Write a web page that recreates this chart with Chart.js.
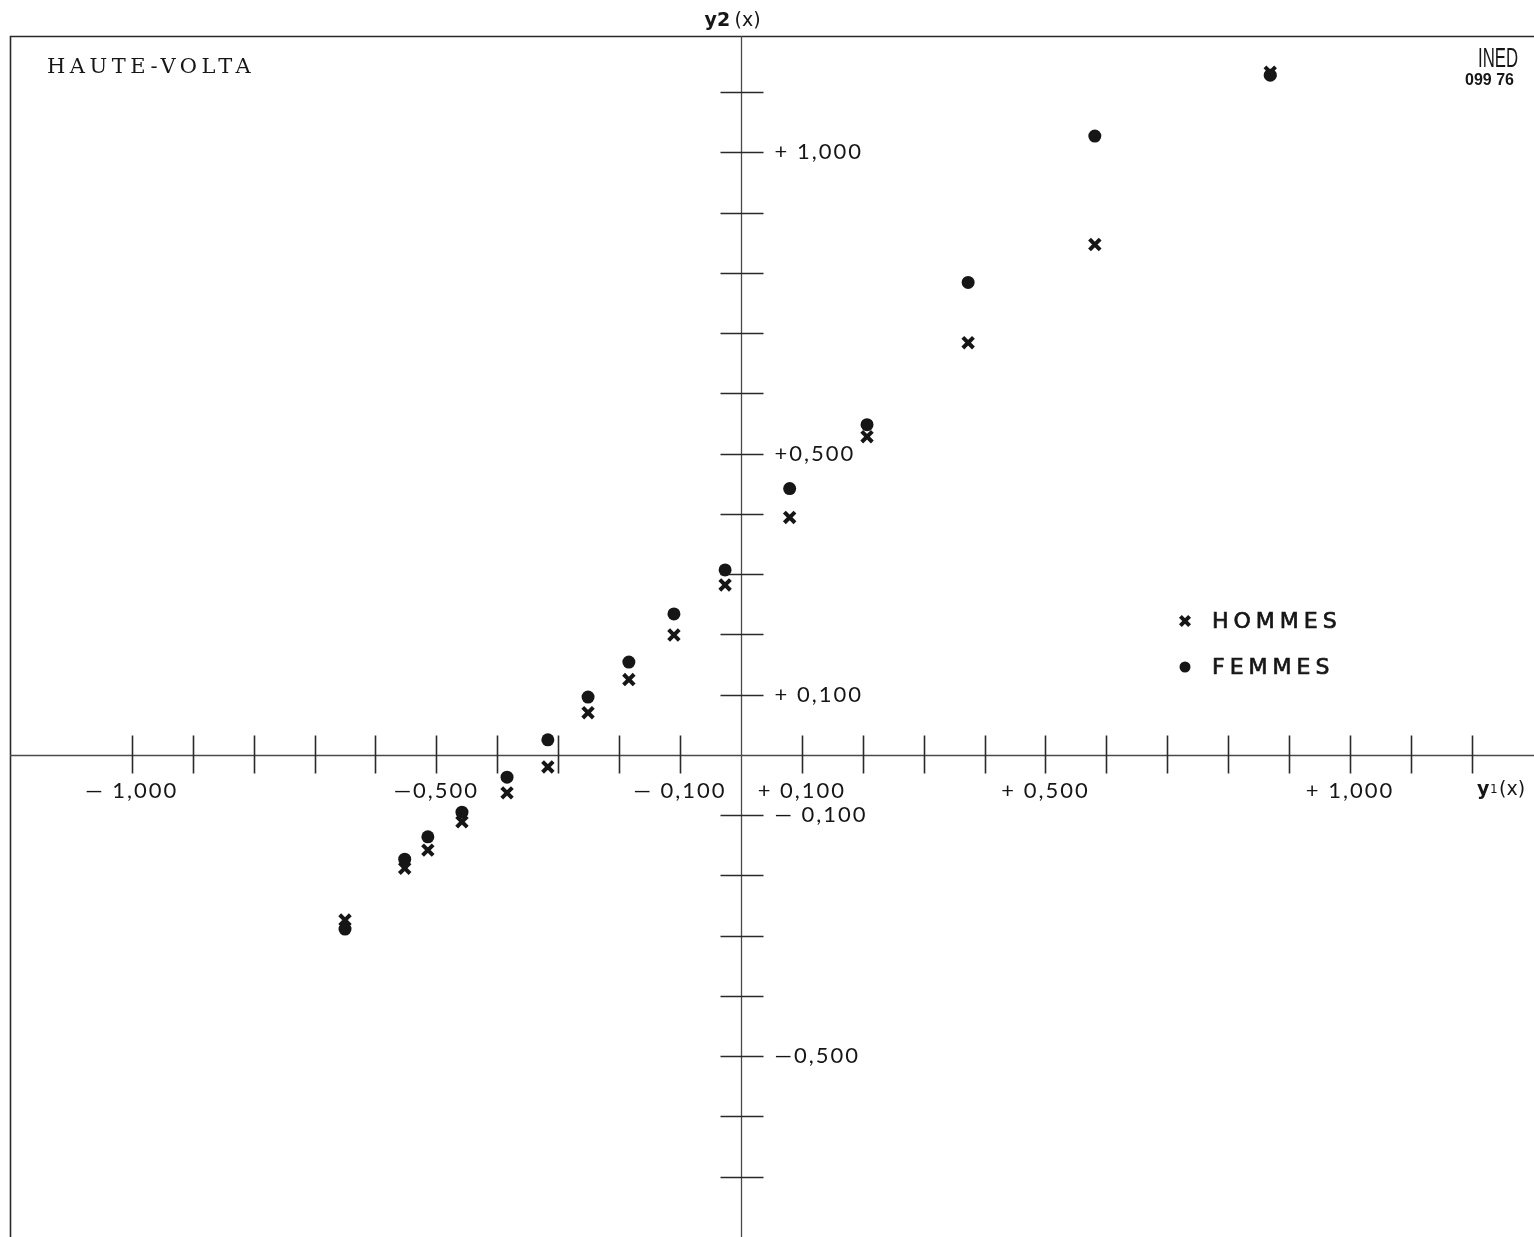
<!DOCTYPE html>
<html lang="fr">
<head>
<meta charset="utf-8">
<title>Haute-Volta</title>
<script src="https://cdn.jsdelivr.net/npm/chart.js@4.4.1/dist/chart.umd.min.js"></script>
<style>
    html, body { margin: 0; padding: 0; background: #fff; }
</style>
</head>
<body>
<canvas id="chart" width="1534" height="1237"></canvas>
<script>
// abscisses y1(x), communes aux deux séries
const y1Values = [-0.650, -0.552, -0.514, -0.458, -0.384, -0.317, -0.251, -0.184, -0.110, -0.026, 0.080, 0.207, 0.373, 0.581, 0.869];
// ordonnées y2(x)
const hommes = [-0.274, -0.188, -0.158, -0.111, -0.063, -0.020, 0.070, 0.125, 0.199, 0.282, 0.394, 0.528, 0.684, 0.847, 1.133];
const femmes = [-0.289, -0.173, -0.136, -0.095, -0.037, 0.025, 0.096, 0.154, 0.234, 0.307, 0.442, 0.548, 0.784, 1.027, 1.128];

// graduations
const xTickRange = [-1.0, 1.2];
const yTickRange = [-0.7, 1.1];
const xLabelValues = [-1.0, -0.5, -0.1, 0.1, 0.5, 1.0];
const xLabelTexts = ['\u2014 1,000', '\u20140,500', '\u2014 0,100', '+ 0,100', '+ 0,500', '+ 1,000'];
const yLabelValues = [1.0, 0.5, 0.1, -0.1, -0.5];
const yLabelTexts = ['+ 1,000', '+0,500', '+ 0,100', '\u2014 0,100', '\u20140,500'];

const ink = '#161616';
const axisGrey = '#4a4a4a';

const toPoints = (ys) => y1Values.map((x, i) => ({ x, y: ys[i] }));

// —— axes croisés, graduations et textes
const axesPlugin = {
    id: 'axesCroises',
    beforeDatasetsDraw(chart) {
        const { ctx, chartArea: a } = chart;
        const sx = chart.scales.x;
        const sy = chart.scales.y;
        const x0 = Math.round(sx.getPixelForValue(0)) + 0.5;
        const y0 = Math.round(sy.getPixelForValue(0)) + 0.5;
        ctx.save();

        // cadre
        ctx.strokeStyle = '#2a2a2a';
        ctx.lineWidth = 1.6;
        ctx.beginPath();
        ctx.moveTo(a.left + 0.5, a.bottom);
        ctx.lineTo(a.left + 0.5, a.top + 0.5);
        ctx.lineTo(a.right, a.top + 0.5);
        ctx.stroke();

        // axes
        ctx.strokeStyle = axisGrey;
        ctx.lineWidth = 1.3;
        ctx.beginPath();
        ctx.moveTo(a.left, y0);
        ctx.lineTo(a.right, y0);
        ctx.moveTo(x0, a.top);
        ctx.lineTo(x0, a.bottom);
        ctx.stroke();

        // graduations (de part et d'autre de l'axe)
        ctx.strokeStyle = '#2a2a2a';
        ctx.lineWidth = 1.6;
        ctx.beginPath();
        sx.ticks.forEach((t) => {
            const v = Math.round(t.value * 10) / 10;
            if (v === 0 || v < xTickRange[0] - 1e-6 || v > xTickRange[1] + 1e-6) return;
            const px = Math.round(sx.getPixelForValue(v)) + 0.5;
            ctx.moveTo(px, y0 - 20);
            ctx.lineTo(px, y0 + 18);
        });
        sy.ticks.forEach((t) => {
            const v = Math.round(t.value * 10) / 10;
            if (v === 0 || v < yTickRange[0] - 1e-6 || v > yTickRange[1] + 1e-6) return;
            const py = Math.round(sy.getPixelForValue(v)) + 0.5;
            ctx.moveTo(x0 - 21, py);
            ctx.lineTo(x0 + 22, py);
        });
        ctx.stroke();

        // étiquettes
        ctx.fillStyle = ink;
        ctx.font = '22px Lato';
        ctx.letterSpacing = '2px';
        ctx.textBaseline = 'middle';
        ctx.textAlign = 'center';
        xLabelValues.forEach((v, i) => {
            ctx.fillText(xLabelTexts[i], sx.getPixelForValue(v), y0 + 35);
        });
        ctx.textAlign = 'left';
        yLabelValues.forEach((v, i) => {
            ctx.fillText(yLabelTexts[i], x0 + 33, sy.getPixelForValue(v));
        });

        // noms des axes
        ctx.letterSpacing = '0px';
        ctx.textBaseline = 'alphabetic';
        ctx.font = 'bold 19px "DejaVu Sans"';
        ctx.fillText('y2', x0 - 37, 26);
        ctx.font = '19px "DejaVu Sans"';
        ctx.fillText('(x)', x0 - 7, 26);

        ctx.font = 'bold 19px "DejaVu Sans"';
        ctx.fillText('y', 1477, y0 + 39);
        ctx.font = '12px "DejaVu Sans"';
        ctx.fillText('1', 1490, y0 + 37);
        ctx.font = '19px "DejaVu Sans"';
        ctx.fillText('(x)', 1499, y0 + 39);

        // titre
        ctx.font = '21px "DejaVu Serif"';
        ctx.letterSpacing = '4.5px';
        ctx.fillText('HAUTE-VOLTA', 47, 73);

        // repère INED
        ctx.letterSpacing = '0px';
        ctx.save();
        ctx.translate(1478, 67);
        ctx.scale(0.6, 1);
        ctx.font = '28px "Liberation Sans Narrow", "Liberation Sans"';
        ctx.fillText('INED', 0, 0);
        ctx.restore();
        ctx.font = 'bold 16px "Liberation Sans"';
        ctx.fillText('099 76', 1465, 85);

        // légende
        const legend = [
            { ds: chart.data.datasets[0], y: 621 },
            { ds: chart.data.datasets[1], y: 667 },
        ];
        ctx.font = '22px "DejaVu Sans"';
        ctx.letterSpacing = '5px';
        ctx.textBaseline = 'middle';
        legend.forEach(({ ds, y }) => {
            ctx.fillStyle = ink;
            ctx.strokeStyle = ink;
            ctx.lineWidth = ds.borderWidth;
            Chart.helpers.drawPoint(ctx, {
                pointStyle: ds.pointStyle,
                radius: ds.pointRadius - 1,
                borderWidth: ds.borderWidth,
            }, 1185, y);
            ctx.lineWidth = 0.7;
            ctx.fillText(ds.label, 1212, y + 1);
            ctx.strokeText(ds.label, 1212, y + 1);
        });

        ctx.restore();
    },
};

const ctx = document.getElementById('chart').getContext('2d');
new Chart(ctx, {
    type: 'scatter',
    data: {
        datasets: [
            {
                label: 'HOMMES',
                data: toPoints(hommes),
                pointStyle: 'crossRot',
                pointRadius: 7.5,
                borderWidth: 4,
                borderColor: ink,
                backgroundColor: ink,
            },
            {
                label: 'FEMMES',
                data: toPoints(femmes),
                pointStyle: 'circle',
                pointRadius: 6.5,
                borderWidth: 0,
                borderColor: ink,
                backgroundColor: ink,
            },
        ],
    },
    options: {
        responsive: false,
        animation: false,
        events: [],
        layout: {
            autoPadding: false,
            padding: { left: 10, top: 36, right: 0, bottom: 0 },
        },
        plugins: {
            legend: { display: false },
            tooltip: { enabled: false },
        },
        scales: {
            x: {
                type: 'linear',
                min: -1.2,
                max: 1.302,
                position: { y: 0 },
                ticks: { stepSize: 0.1, display: false },
                grid: { display: false },
                border: { display: false },
            },
            y: {
                type: 'linear',
                min: -0.8,
                max: 1.193,
                position: { x: 0 },
                ticks: { stepSize: 0.1, display: false },
                grid: { display: false },
                border: { display: false },
            },
        },
    },
    plugins: [axesPlugin],
});
</script>
</body>
</html>
